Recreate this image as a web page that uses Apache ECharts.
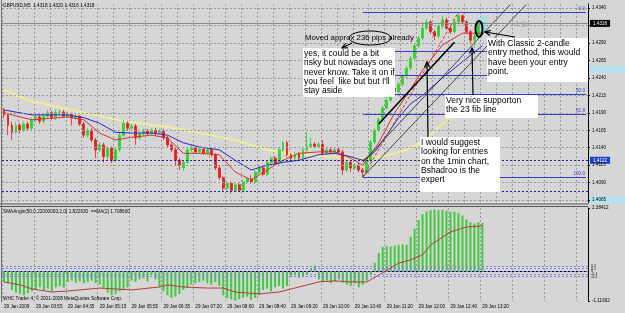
<!DOCTYPE html>
<html>
<head>
<meta charset="utf-8">
<script src="https://cdn.jsdelivr.net/npm/echarts@6/dist/echarts.min.js"></script>
<style>
  html, body { margin: 0; padding: 0; background: #d6d6d6; }
  #chart { width: 625px; height: 313px; }
</style>
</head>
<body>
<div id="chart"></div>
<script>
// GBPUSD M5, 29 Jan 2009 - candles [open, close, low, high]
const candles = [
  [1.4194,1.4187,1.4183,1.4197],[1.4187,1.4172,1.4158,1.4190],[1.4172,1.4162,1.4151,1.4177],
  [1.4162,1.4172,1.4160,1.4177],[1.4172,1.4165,1.4161,1.4175],[1.4165,1.4174,1.4162,1.4178],
  [1.4174,1.4168,1.4164,1.4177],[1.4168,1.4180,1.4165,1.4183],[1.4180,1.4184,1.4177,1.4188],
  [1.4184,1.4178,1.4174,1.4187],[1.4178,1.4185,1.4175,1.4188],[1.4185,1.4190,1.4183,1.4194],
  [1.4190,1.4183,1.4180,1.4193],[1.4183,1.4191,1.4180,1.4195],[1.4191,1.4191,1.4187,1.4194],
  [1.4191,1.4185,1.4183,1.4194],[1.4185,1.4188,1.4183,1.4191],[1.4188,1.4183,1.4172,1.4190],
  [1.4183,1.4185,1.4180,1.4188],[1.4185,1.4174,1.4171,1.4187],[1.4174,1.4158,1.4154,1.4177],
  [1.4158,1.4165,1.4155,1.4168],[1.4165,1.4151,1.4148,1.4168],[1.4151,1.4137,1.4125,1.4154],
  [1.4137,1.4144,1.4134,1.4148],[1.4144,1.4127,1.4119,1.4147],[1.4127,1.4140,1.4122,1.4142],
  [1.4140,1.4122,1.4118,1.4142],[1.4122,1.4137,1.4119,1.4140],[1.4137,1.4158,1.4134,1.4162],
  [1.4158,1.4175,1.4155,1.4180],[1.4175,1.4168,1.4164,1.4178],[1.4168,1.4171,1.4165,1.4174],
  [1.4171,1.4154,1.4144,1.4174],[1.4154,1.4160,1.4151,1.4162],[1.4160,1.4164,1.4157,1.4167],
  [1.4164,1.4160,1.4157,1.4167],[1.4160,1.4165,1.4157,1.4168],[1.4165,1.4161,1.4158,1.4168],
  [1.4161,1.4164,1.4160,1.4167],[1.4164,1.4154,1.4151,1.4167],[1.4154,1.4144,1.4141,1.4157],
  [1.4144,1.4137,1.4134,1.4147],[1.4137,1.4122,1.4115,1.4140],[1.4122,1.4115,1.4108,1.4125],
  [1.4111,1.4119,1.4107,1.4122],[1.4119,1.4137,1.4117,1.4140],[1.4137,1.4140,1.4134,1.4144],
  [1.4140,1.4134,1.4131,1.4142],[1.4134,1.4138,1.4131,1.4141],[1.4138,1.4132,1.4130,1.4141],
  [1.4132,1.4137,1.4130,1.4140],[1.4137,1.4130,1.4127,1.4140],[1.4130,1.4111,1.4108,1.4132],
  [1.4111,1.4097,1.4094,1.4114],[1.4097,1.4082,1.4077,1.4099],[1.4082,1.4089,1.4079,1.4092],
  [1.4089,1.4079,1.4074,1.4092],[1.4079,1.4087,1.4077,1.4089],[1.4087,1.4079,1.4077,1.4089],
  [1.4079,1.4091,1.4077,1.4094],[1.4091,1.4095,1.4088,1.4098],[1.4095,1.4091,1.4088,1.4101],
  [1.4091,1.4105,1.4088,1.4108],[1.4105,1.4111,1.4102,1.4114],[1.4111,1.4102,1.4099,1.4114],
  [1.4102,1.4119,1.4099,1.4122],[1.4119,1.4125,1.4117,1.4128],[1.4125,1.4118,1.4115,1.4128],
  [1.4118,1.4137,1.4115,1.4140],[1.4137,1.4147,1.4134,1.4150],[1.4147,1.4130,1.4127,1.4150],
  [1.4130,1.4125,1.4122,1.4132],[1.4125,1.4131,1.4122,1.4134],[1.4131,1.4125,1.4122,1.4134],
  [1.4125,1.4137,1.4122,1.4140],[1.4137,1.4142,1.4134,1.4162],[1.4142,1.4145,1.4140,1.4154],
  [1.4145,1.4142,1.4140,1.4148],[1.4142,1.4145,1.4140,1.4148],[1.4145,1.4132,1.4130,1.4151],
  [1.4132,1.4137,1.4130,1.4140],[1.4137,1.4134,1.4131,1.4140],[1.4134,1.4137,1.4131,1.4141],
  [1.4137,1.4134,1.4131,1.4140],[1.4134,1.4108,1.4101,1.4137],[1.4108,1.4119,1.4105,1.4122],
  [1.4119,1.4111,1.4105,1.4122],[1.4111,1.4115,1.4108,1.4118],[1.4115,1.4108,1.4105,1.4118],
  [1.4108,1.4105,1.4098,1.4111],[1.4105,1.4122,1.4102,1.4125],[1.4122,1.4148,1.4119,1.4151],
  [1.4148,1.4165,1.4145,1.4168],[1.4165,1.4180,1.4162,1.4183],[1.4180,1.4197,1.4177,1.4200],
  [1.4197,1.4208,1.4194,1.4213],[1.4208,1.4225,1.4205,1.4228],[1.4225,1.4220,1.4215,1.4237],
  [1.4220,1.4231,1.4217,1.4234],[1.4231,1.4243,1.4228,1.4246],[1.4243,1.4254,1.4240,1.4257],
  [1.4254,1.4268,1.4251,1.4271],[1.4268,1.4286,1.4266,1.4288],[1.4286,1.4297,1.4283,1.4300],
  [1.4297,1.4311,1.4294,1.4320],[1.4311,1.4320,1.4309,1.4324],[1.4320,1.4306,1.4303,1.4323],
  [1.4306,1.4300,1.4294,1.4309],[1.4300,1.4314,1.4297,1.4317],[1.4314,1.4323,1.4311,1.4329],
  [1.4323,1.4311,1.4309,1.4326],[1.4311,1.4306,1.4303,1.4314],[1.4306,1.4320,1.4303,1.4323],
  [1.4320,1.4329,1.4317,1.4334],[1.4329,1.4320,1.4317,1.4331],[1.4320,1.4306,1.4303,1.4323],
  [1.4306,1.4294,1.4288,1.4309],[1.4294,1.4300,1.4283,1.4303],[1.4300,1.4318,1.4297,1.4321],
  [1.4318,1.4318,1.4316,1.4320]
];

// moving averages: [bar index, price]
const redMA = [[0,1.4190],[7,1.4180],[16,1.4184],[20,1.4180],[24,1.4161],[28,1.4151],[32,1.4155],
  [37,1.4158],[41,1.4154],[45,1.4132],[49,1.4132],[54,1.4130],[58,1.4105],[62,1.4094],[66,1.4108],
  [70,1.4122],[74,1.4132],[79,1.4134],[83,1.4134],[87,1.4125],[90,1.4115],[94,1.4147],[98,1.4190],
  [101,1.4215],[105,1.4251],[110,1.4287],[115,1.4304],[120,1.4304]];
const blueMA = [[0,1.4194],[7,1.4187],[16,1.4187],[20,1.4183],[24,1.4175],[28,1.4162],[32,1.4161],
  [37,1.4161],[41,1.4158],[45,1.4147],[49,1.4141],[54,1.4137],[58,1.4122],[62,1.4108],[66,1.4115],
  [70,1.4119],[74,1.4122],[79,1.4130],[83,1.4132],[87,1.4127],[90,1.4122],[93,1.4134],[96,1.4158],
  [99,1.4183],[102,1.4203],[105,1.4215],[110,1.4240],[115,1.4263],[120,1.4286]];
const yellowMA = [[0,1.4223],[6,1.4208],[20,1.4190],[31,1.4177],[41,1.4170],[52,1.4158],[58,1.4151],
  [66,1.4137],[74,1.4130],[83,1.4127],[89,1.4125],[95,1.4127],[101,1.4137],[105,1.4148],[112,1.4184],
  [117,1.4204]];

// fibonacci retracement (low bar 90 -> high bar 114)
const fibNames = ['0.0', '23.6', '38.2', '50.0', '61.8', '100.0'];
const fibPrices = [1.4334, 1.4278, 1.4244, 1.4216, 1.4188, 1.4098];

// price axis
const priceGrid = [1.4065,1.4090,1.4115,1.4140,1.4165,1.4190,1.4215,1.4240,1.4265,1.4290,1.4315,1.4340];
const priceLabels = [1.4065,1.4090,1.4115,1.4140,1.4165,1.4190,1.4215,1.4240,1.4265,1.4290,1.4340];

// SMAAngle histogram and its MA
const angle = [-0.40,-0.45,-0.70,-0.80,-0.85,-0.90,-0.82,-0.75,-0.70,-0.60,-0.72,-0.65,-0.75,-0.60,
  -0.55,-0.62,-0.40,-0.35,-0.42,-0.38,-0.45,-0.40,-0.35,-0.44,-0.50,-0.65,-0.80,-0.90,-0.85,-0.75,
  -0.70,-0.60,-0.35,-0.40,-0.30,-0.25,-0.38,-0.10,-0.30,-0.60,-0.75,-0.90,-1.00,-0.95,-0.85,-0.70,
  -0.60,-0.50,-0.45,-0.40,-0.35,-0.45,-0.50,-0.40,-0.55,-0.90,-1.00,-1.05,-1.10,-1.05,-1.00,-0.95,
  -1.08,-1.00,-0.90,-0.70,-0.65,-0.75,-0.60,-0.55,-0.65,-0.55,-0.20,-0.15,-0.25,-0.18,-0.10,0.12,
  0.22,-0.30,-0.40,-0.35,-0.45,-0.38,-0.30,-0.42,-0.50,-0.55,-0.45,-0.60,-0.50,-0.35,-0.10,0.32,
  0.69,0.92,0.95,0.93,0.97,1.00,1.02,1.00,1.30,1.60,1.93,2.15,2.25,2.30,2.33,2.30,2.32,2.28,2.25,
  2.25,2.20,2.10,1.95,1.85,1.80,1.85,1.82];
const angleMA = [[0,-0.40],[4,-0.51],[7,-0.66],[12,-0.78],[16,-0.74],[24,-0.63],[32,-0.70],[39,-0.59],
  [41,-0.51],[45,-0.59],[51,-0.63],[55,-0.63],[58,-0.78],[64,-0.85],[69,-0.78],[74,-0.59],[79,-0.40],
  [83,-0.36],[87,-0.40],[91,-0.40],[94,-0.14],[99,0.31],[102,0.43],[105,0.62],[107,0.99],[112,1.48],
  [116,1.67],[120,1.71]];
const angleLevels = [0.2, 0.1, 0, -0.1, -0.2];

// 5 minute bars from 03:15, the 07:05 bar is missing
const times = [];
let m = 3 * 60 + 15;
for (let k = 0; k < 147; k++) {
  times.push(String(Math.floor(m / 60)).padStart(2, '0') + ':' + String(m % 60).padStart(2, '0'));
  m += 5;
  if (m === 7 * 60 + 5) m += 5;
}

const gridColor = '#9a9a9a';
const small = 4.6;

function arrow(x1, y1, x2, y2) {
  const a = Math.atan2(y2 - y1, x2 - x1), h = 6, s = 0.45;
  const p1 = [x2 - h * Math.cos(a - s), y2 - h * Math.sin(a - s)];
  const p2 = [x2 - h * Math.cos(a + s), y2 - h * Math.sin(a + s)];
  return [
    { type: 'line', z: 100, shape: { x1: x1, y1: y1, x2: x2, y2: y2 }, style: { stroke: '#000', lineWidth: 1.2 } },
    { type: 'polyline', z: 100, shape: { points: [p1, [x2, y2], p2] }, style: { stroke: '#000', lineWidth: 1.2, fill: null } }
  ];
}
function note(x, y, w, h, lines) {
  return [
    { type: 'rect', z: 98, shape: { x: x, y: y, width: w, height: h }, style: { fill: '#ffffff' } },
    { type: 'text', z: 99, x: x + 1, y: y + 1, style: { text: lines.join('\n'), font: '8.5px "Liberation Sans", Arial, sans-serif', lineHeight: 9.3, fill: '#000', verticalAlign: 'top' } }
  ];
}

const chart = echarts.init(document.getElementById('chart'));
const option = {
  backgroundColor: '#d6d6d6',
  animation: false,
  textStyle: { fontFamily: '"Liberation Sans", Arial, sans-serif' },
  grid: [
    { left: 2, right: 37, top: 4, bottom: 110 },
    { left: 2, right: 37, top: 208, bottom: 12 }
  ],
  xAxis: [
    { type: 'category', gridIndex: 0, data: times, boundaryGap: true,
      axisLine: { show: false }, axisTick: { show: false }, axisLabel: { show: false },
      splitLine: { show: true, interval: 3, lineStyle: { color: gridColor, type: [2, 2] } } },
    { type: 'category', gridIndex: 1, data: times, boundaryGap: true,
      axisLine: { show: true, lineStyle: { color: '#000' } }, axisTick: { show: false },
      axisLabel: { show: true, interval: function (i) { return i % 8 === 0 && i <= 120; },
        formatter: function (v, i) { return i === 0 ? '29 Jan 2009' : '29 Jan ' + v; },
        fontSize: small, color: '#000', align: 'left', margin: 3 },
      splitLine: { show: true, interval: 7, lineStyle: { color: gridColor, type: [2, 2] } } }
  ],
  yAxis: [
    { type: 'value', gridIndex: 0, position: 'right', min: 1.40608, max: 1.43458, z: 10,
      axisLine: { show: true, lineStyle: { color: '#000' } },
      axisTick: { show: true, length: 2, customValues: priceGrid, lineStyle: { color: '#000' } },
      axisLabel: { customValues: priceLabels, formatter: function (v) { return v.toFixed(4); },
        fontSize: small, color: '#000', margin: 4 },
      splitLine: { show: false } },
    { type: 'value', gridIndex: 1, position: 'right', min: -1.11662, max: 2.38412, z: 10,
      axisLine: { show: true, lineStyle: { color: '#000' } },
      axisTick: { show: true, length: 2, customValues: [-1.11662, 2.38412], lineStyle: { color: '#000' } },
      axisLabel: { customValues: [-1.11662, 2.38412], showMinLabel: true, showMaxLabel: true,
        formatter: function (v) { return v.toFixed(5); }, fontSize: small, color: '#000', margin: 4 },
      splitLine: { show: false } }
  ],
  series: [
    { name: 'grid', type: 'line', xAxisIndex: 0, yAxisIndex: 0, data: [], z: 0,
      markLine: { silent: true, symbol: ['none', 'none'], precision: 4, label: { show: false },
        lineStyle: { color: gridColor, width: 1, type: [2, 2] },
        data: priceGrid.map(function (p) { return { yAxis: p }; }) } },
    { name: 'MA slow', type: 'line', xAxisIndex: 0, yAxisIndex: 0, data: yellowMA, showSymbol: false, z: 1,
      lineStyle: { color: '#eeee9a', width: 2 },
      markLine: { silent: true, symbol: ['none', 'none'], precision: 4,
        data: fibPrices.map(function (p, k) {
          const st = { lineStyle: { color: '#3c3cc8', width: 1.2, type: 'solid' },
            label: { show: true, position: 'insideEndTop', formatter: fibNames[k], fontSize: small, color: '#3c3cc8', distance: 1 } };
          return [Object.assign({ coord: [90, p] }, st), Object.assign({ coord: [146, p] }, st)];
        }) } },
    { name: 'GBPUSD', type: 'candlestick', xAxisIndex: 0, yAxisIndex: 0, data: candles, barWidth: 2.4, z: 3,
      itemStyle: { color: '#2fd22f', color0: '#e51e1e', borderColor: '#2fd22f', borderColor0: '#e51e1e', borderWidth: 0.8 } },
    { name: 'MA fast', type: 'line', xAxisIndex: 0, yAxisIndex: 0, data: redMA, showSymbol: false, z: 4,
      lineStyle: { color: '#d83030', width: 1 },
      markLine: { silent: true, symbol: ['none', 'none'], precision: 4, label: { show: false },
        data: [
          [{ coord: [94, 1.4174], lineStyle: { color: '#000', width: 1.6, type: 'solid' } }, { coord: [112.6, 1.4291] }],
          [{ coord: [90, 1.4098], lineStyle: { color: '#222', width: 0.8, type: 'solid' } }, { coord: [131, 1.4345] }],
          [{ coord: [90, 1.4119], lineStyle: { color: '#222', width: 0.8, type: 'solid' } }, { coord: [127, 1.4345] }],
          [{ coord: [90, 1.4098], lineStyle: { color: '#d02020', width: 0.9, type: [3, 2] } }, { coord: [114, 1.4334] }]
        ] } },
    { name: 'MA mid', type: 'line', xAxisIndex: 0, yAxisIndex: 0, data: blueMA, showSymbol: false, z: 4,
      lineStyle: { color: '#2a2ac8', width: 1 },
      markLine: { silent: true, symbol: ['none', 'none'], precision: 4,
        data: [
          { yAxis: 1.4318, lineStyle: { color: '#8a8a8a', width: 1, type: 'solid' },
            label: { show: true, position: 'end', distance: 2, formatter: '1.4318', fontSize: small,
              color: '#fff', backgroundColor: '#000', padding: [1, 3] } },
          { yAxis: 1.4122, lineStyle: { color: '#1c1c9c', width: 1, type: [2, 2] },
            label: { show: true, position: 'end', distance: 2, formatter: '1.4122', fontSize: small,
              color: '#fff', backgroundColor: '#2040c8', padding: [1, 3] } },
          { yAxis: 1.4077, lineStyle: { color: '#1c1c9c', width: 1, type: [2, 2] }, label: { show: false } }
        ] } },
    { name: 'SMAAngle', type: 'bar', xAxisIndex: 1, yAxisIndex: 1, data: angle, barWidth: 2,
      itemStyle: { color: '#43c843' },
      markLine: { silent: true, symbol: ['none', 'none'], precision: 2,
        data: angleLevels.map(function (v) {
          return { yAxis: v, lineStyle: { color: '#8080e6', width: 1, type: [2, 2] },
            label: { show: true, position: 'end', distance: 3, formatter: String(v), fontSize: 3.6, color: '#000' } };
        }) } },
    { name: 'MA', type: 'line', xAxisIndex: 1, yAxisIndex: 1, data: angleMA, showSymbol: false,
      lineStyle: { color: '#b83a3a', width: 1 } }
  ],
  graphic: [
    { type: 'rect', z: 1, shape: { x: 476, y: 17, width: 11, height: 17 }, style: { fill: '#a4e0f2' } },
    { type: 'rect', z: 1, shape: { x: 589, y: 66, width: 36, height: 7 }, style: { fill: '#b4e2f0' } },
    { type: 'rect', z: 1, shape: { x: 589, y: 196, width: 36, height: 7 }, style: { fill: '#b4e2f0' } },
    { type: 'line', z: 50, shape: { x1: 0, y1: 204, x2: 588, y2: 204 }, style: { stroke: '#555', lineWidth: 1.2 } },
    { type: 'line', z: 50, shape: { x1: 0, y1: 206.5, x2: 588, y2: 206.5 }, style: { stroke: '#555', lineWidth: 1.2 } },
    { type: 'line', z: 50, shape: { x1: 1.5, y1: 0, x2: 1.5, y2: 302 }, style: { stroke: '#777', lineWidth: 1 } },
    { type: 'text', z: 60, x: 3, y: 3, style: { text: 'GBPUSD,M5  1.4318 1.4320 1.4316 1.4318', font: '4.7px "Liberation Sans", Arial', fill: '#000', verticalAlign: 'top' } },
    { type: 'text', z: 60, x: 3, y: 209, style: { text: 'SMAAngle(50,0.22000000,2,0) 1.822630  ==MA(2) 1.708600', font: '4.7px "Liberation Sans", Arial', fill: '#000', verticalAlign: 'top' } },
    { type: 'text', z: 60, x: 3, y: 296, style: { text: 'WHC Trader 4, \u00a9 2001-2008 MetaQuotes Software Corp.', font: '4.7px "Liberation Sans", Arial', fill: '#000', verticalAlign: 'top' } },
    { type: 'text', z: 60, x: 514, y: 20, style: { text: '4:9', font: '9px "Liberation Sans", Arial', fill: '#a6a6a6', verticalAlign: 'top' } },
    { type: 'text', z: 99, x: 305, y: 33.5, style: { text: 'Moved approx 236 pips already', font: '7.8px "Liberation Sans", Arial', fill: '#000', verticalAlign: 'top' } },
    { type: 'ellipse', z: 99, shape: { cx: 370, cy: 38, rx: 21, ry: 7 }, style: { stroke: '#000', lineWidth: 1, fill: null } },
    { type: 'ellipse', z: 99, shape: { cx: 479, cy: 29, rx: 3.5, ry: 8 }, style: { stroke: '#000', lineWidth: 2, fill: null } }
  ]
    .concat(note(303, 48, 92, 49, ['yes, it could be a bit', 'risky but nowadays one', 'never know. Take it on if', 'you feel  like but but I\'ll', 'stay aside']))
    .concat(note(487, 38, 101, 44, ['With Classic 2-candle', 'entry method, this would', 'have been your entry', 'point.']))
    .concat(note(445, 95, 93, 23, ['Very nice supporton', 'the 23 fib line']))
    .concat(note(420, 137, 80, 55, ['I would suggest', 'looking for entries', 'on the 1min chart,', 'Bshadroo is the', 'expert']))
    .concat(arrow(352, 43, 342, 48))
    .concat(arrow(428, 137, 427, 62))
    .concat(arrow(473, 95, 472, 48))
    .concat(arrow(515, 37, 485, 32))
};
chart.setOption(option);
window.addEventListener('resize', function () { chart.resize(); });
</script>
</body>
</html>
